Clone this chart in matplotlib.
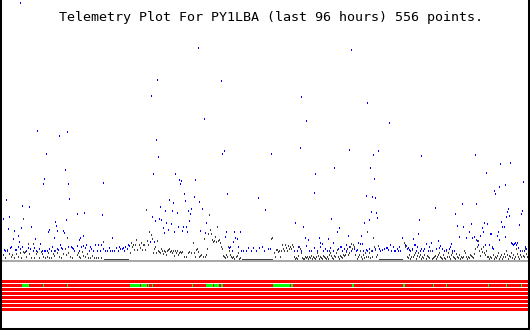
import numpy as np
import matplotlib
matplotlib.use("Agg")
import matplotlib.pyplot as plt

## Telemetry readings, t = time slot (0..530), v = reading above baseline
blue_t = [20, 157, 151, 37, 67, 59, 156, 46, 158, 65, 153, 175,
          198, 351, 221, 301, 204, 306, 300, 224, 222, 271, 349, 334, 315,
          367, 389, 378, 373, 421, 475, 370, 500, 510, 486,
          44, 43, 68, 103, 179, 6, 69, 22, 29, 77, 84, 102, 9, 3, 55, 66, 56, 31, 8,
          14, 21, 49, 48, 57, 63, 64, 18, 13, 35, 54, 83, 80, 79, 112, 19, 40,
          169, 173, 160, 165, 172, 177, 152, 159, 161, 155, 166, 171, 163, 168, 174, 164, 154, 150,
          1, 4, 5, 7, 10, 11, 15, 16, 18, 20, 22, 26, 28, 30, 33, 34, 36, 39, 42, 44, 45,
          47, 49, 51, 52, 54, 57, 58, 60, 61, 62, 68, 71, 72, 73, 74, 77, 79, 81, 83, 85,
          86, 89, 90, 91, 93, 95, 97, 98, 100, 101, 103, 105, 107, 109, 110, 112, 114, 116,
          118, 119, 120, 122, 123, 124, 125, 127, 128, 129,
          181, 180, 195, 184, 194, 227, 258, 314, 185, 199, 202, 188, 191, 190, 265, 189,
          206, 178, 183, 186, 182, 187, 200, 205, 226, 234, 240, 295, 303, 331, 339, 337,
          348, 225, 235, 237, 233, 305, 308, 319, 328, 333, 320, 322, 346, 341,
          229, 230, 232, 238, 241, 243, 246, 248, 251, 253, 256, 259, 262, 264, 268, 270,
          294, 297, 298, 301, 306, 309, 311, 314, 317, 320, 323, 325, 327, 329, 330, 333,
          338, 340, 342, 344, 346, 349, 351, 354,
          374, 366, 372, 375, 371, 376, 377, 364, 369, 361, 402, 413, 418, 419, 435, 455,
          457, 459, 462, 463, 466, 469, 471, 472, 474, 476, 477, 480, 482, 483, 484, 487,
          490, 491, 497, 498, 499, 501, 502, 504, 505, 506, 507, 508, 509, 519, 521, 522,
          523, 494, 495, 499, 505, 358, 360, 362, 438, 426, 431, 451, 511, 512, 515, 517, 478,
          356, 357, 363, 366, 367, 369, 372, 375, 379, 380, 382, 384, 386, 387, 388, 390,
          391, 393, 394, 395, 397, 398, 399, 400, 405, 407, 408, 409, 410, 412, 414, 415,
          416, 417, 420, 421, 423, 424, 428, 429, 432, 436, 439, 440, 442, 444, 446, 449,
          450, 452, 454, 485, 489, 492, 493, 513, 514, 516, 518, 520, 524, 525, 526, 528]
blue_v = [257, 180, 164, 129, 128, 124, 120, 106, 103, 90, 86, 86,
          212, 210, 179, 163, 141, 139, 112, 109, 106, 106, 110, 92, 86,
          157, 137, 109, 105, 104, 105, 92, 96, 97, 87,
          81, 76, 76, 77, 80, 60, 61, 54, 53, 46, 47, 45, 43, 41, 38, 40, 34, 33, 31,
          29, 32, 30, 28, 29, 29, 27, 24, 21, 21, 22, 24, 22, 20, 22, 18, 16,
          60, 57, 53, 49, 49, 47, 43, 41, 40, 39, 37, 36, 32, 30, 28, 27, 18, 18,
          9, 10, 9, 9, 12, 13, 10, 10, 13, 11, 13, 9, 12, 11, 9, 12, 9, 11, 9, 9, 9,
          9, 11, 9, 13, 9, 11, 10, 15, 12, 11, 13, 13, 12, 11, 9, 14, 9, 13, 14, 12,
          15, 9, 13, 11, 9, 15, 9, 15, 9, 15, 11, 9, 9, 12, 9, 9, 9, 12,
          9, 13, 11, 11, 12, 9, 13, 11, 15, 14,
          79, 76, 80, 66, 63, 66, 62, 67, 59, 58, 51, 49, 51, 46, 50, 39,
          37, 33, 33, 33, 29, 28, 29, 27, 28, 28, 28, 37, 33, 41, 32, 28,
          24, 23, 22, 21, 18, 22, 20, 22, 21, 17, 17, 16, 15, 13,
          12, 13, 9, 13, 9, 9, 9, 12, 9, 12, 9, 12, 13, 9, 11, 11,
          9, 9, 13, 9, 14, 9, 9, 12, 9, 13, 9, 11, 9, 9, 12, 9,
          11, 13, 9, 11, 9, 13, 9, 11,
          81, 64, 63, 62, 48, 47, 42, 37, 40, 24, 22, 21, 26, 40, 52, 46,
          34, 23, 56, 33, 22, 28, 36, 22, 23, 56, 19, 24, 32, 28, 37, 36,
          26, 26, 24, 28, 20, 38, 33, 33, 23, 43, 48, 51, 44, 35, 46, 49,
          78, 69, 66, 73, 75, 17, 16, 16, 19, 16, 17, 16, 17, 16, 17, 17, 15,
          9, 10, 9, 10, 9, 11, 9, 11, 11, 9, 10, 11, 12, 12, 10, 15,
          9, 13, 9, 9, 11, 9, 13, 9, 15, 11, 12, 10, 9, 11, 15, 15,
          9, 13, 9, 11, 9, 11, 9, 13, 9, 11, 12, 14, 11, 9, 10, 11,
          13, 9, 9, 15, 15, 12, 11, 15, 16, 15, 12, 9, 9, 13, 11, 12]

black_t = [0, 1, 3, 5, 7, 9, 11, 12, 14, 16, 18, 20, 21, 23, 24, 25, 26, 28, 29, 31,
           33, 34, 36, 37, 39, 41, 42, 43, 45, 47, 48, 49, 51, 53, 54, 55, 57, 59, 61, 63,
           65, 66, 67, 68, 70, 72, 74, 77, 78, 79, 80, 82, 83, 85, 87, 88, 90, 92, 94, 96,
           98, 101, 103, 23,
           130, 131, 132, 133, 134, 135, 136, 137, 139, 140, 141, 142, 143, 144, 145, 146,
           147, 148, 149, 151, 152, 153, 154, 155, 156, 157, 158, 159, 160, 161, 162, 163,
           164, 165, 166, 167, 168, 169, 170, 171, 172, 173, 174, 175, 176,
           177, 178, 179, 180, 181, 182, 184, 186, 188, 189, 191, 193, 194, 195, 196, 197,
           198, 199, 200, 201, 203, 204, 205, 206, 207, 208, 209, 210, 211, 212, 213, 214,
           215, 216, 217, 218, 219, 220, 221, 222, 223, 224, 225, 226, 227, 228, 229, 230,
           231, 232, 233, 234, 236, 237, 238, 239, 240,
           271, 272, 274, 275, 276, 277, 278, 279, 280, 281, 282, 283, 284, 285, 286, 287,
           288, 289, 290, 291, 292, 293, 294, 295, 296, 297, 298, 299, 300, 301, 302, 303,
           304, 305, 306, 307, 308, 309, 310, 311, 312, 313, 314, 315, 316, 317, 318, 319,
           320, 321, 322, 323, 324, 325, 326, 327, 328, 329, 330, 331, 332, 333, 334, 335,
           336, 337, 338, 339, 340, 341, 342, 343, 344, 345, 346, 347, 348, 349, 350, 351,
           352, 353, 354,
           355, 357, 358, 359, 360, 361, 362, 363, 364, 365, 366, 367, 368, 369, 370, 371,
           372, 373, 374, 375, 376, 377, 378,
           404, 405, 406, 407, 408, 409, 410, 411, 412, 413, 414, 415, 416, 417, 418, 419,
           420, 421, 422, 423, 424, 426, 427, 428, 429, 430, 432, 433, 434, 435, 436, 437,
           438, 439, 440, 441, 442, 443, 444, 445, 446, 447, 448, 449, 450, 451, 452, 453,
           454, 455, 456, 457, 458, 459, 460, 461, 462, 463, 464, 465, 466, 467, 468, 469,
           470, 471, 472, 473, 474, 475, 476, 477, 478, 479, 480, 481, 482, 483, 484, 485,
           486, 487, 488, 489, 490, 491, 492, 493, 494, 495, 496, 497, 498, 499, 500, 501,
           502, 503, 504, 505, 506, 507, 508, 509, 510, 511, 512, 513, 514, 515, 516, 517,
           518, 519, 520, 521, 522, 523, 524, 525, 526, 527, 528]
black_v = [7, 3, 5, 2, 10, 6, 3, 5, 2, 6, 3, 7, 2, 8, 7, 8, 3, 16, 6, 2,
           16, 2, 6, 8, 2, 8, 6, 3, 2, 3, 7, 2, 2, 6, 4, 9, 7, 3, 2, 6,
           11, 5, 22, 7, 3, 2, 9, 5, 7, 3, 2, 8, 4, 3, 6, 2, 2, 4, 2, 2,
           2, 2, 18, 41,
           7, 17, 13, 15, 10, 15, 20, 10, 15, 12, 17, 10, 15, 15, 10, 50,
           19, 15, 28, 25, 21, 7, 11, 13, 7, 19, 9, 8, 7, 11, 9, 6,
           9, 8, 5, 9, 10, 11, 8, 9, 7, 9, 4, 9, 7,
           9, 5, 7, 8, 7, 8, 3, 3, 7, 8, 7, 17, 7, 3, 10, 11,
           8, 3, 4, 5, 3, 21, 3, 5, 11, 26, 45, 30, 26, 20, 18, 19,
           23, 18, 33, 19, 20, 17, 13, 11, 4, 3, 2, 5, 3, 13, 9, 5,
           3, 2, 3, 1, 3, 4, 7, 1, 2,
           21, 22, 7, 3, 10, 10, 8, 9, 3, 9, 15, 11, 9, 15, 12, 9,
           14, 11, 13, 11, 15, 13, 3, 1, 2, 1, 4, 13, 11, 7, 2, 1,
           1, 3, 2, 3, 1, 3, 2, 4, 1, 3, 2, 1, 3, 7, 4, 1,
           3, 2, 1, 4, 3, 2, 1, 3, 1, 5, 7, 4, 2, 1, 4, 3,
           7, 10, 3, 1, 4, 3, 2, 5, 4, 5, 8, 11, 5, 7, 13, 16,
           11, 15, 13,
           5, 1, 3, 5, 9, 3, 1, 5, 2, 7, 3, 28, 3, 7, 2, 9,
           3, 22, 13, 10, 3, 5, 14,
           17, 13, 14, 3, 2, 5, 1, 3, 10, 3, 5, 7, 1, 4, 7, 3,
           5, 1, 3, 2, 5, 1, 4, 3, 2, 9, 1, 2, 3, 4, 1, 3,
           5, 7, 3, 2, 1, 5, 2, 1, 9, 3, 7, 3, 1, 5, 7, 3,
           2, 1, 6, 3, 2, 5, 1, 3, 2, 3, 9, 7, 3, 1, 3, 2,
           5, 4, 3, 2, 6, 11, 20, 13, 19, 9, 4, 11, 8, 13, 7, 5,
           9, 3, 3, 1, 3, 2, 13, 5, 1, 3, 2, 4, 7, 1, 3, 5,
           1, 3, 6, 3, 9, 5, 1, 4, 3, 7, 2, 5, 1, 3, 11, 6,
           3, 1, 5, 3, 9, 4, 3, 11, 6, 3, 2]

# stretches where the black channel sits flat on the floor
floor_start = [104, 242, 379]
floor_end = [128, 272, 402]

# status band: green stretches on the second row
green_start = [22, 43, 67, 130, 141, 148, 152, 192, 206, 214, 221, 273, 291,
               352, 403, 433, 446, 488, 506, 521]
green_end = [29, 44, 68, 140, 147, 149, 153, 193, 213, 219, 223, 290, 293,
             354, 405, 434, 447, 489, 507, 522]
n_rows = 8

fig = plt.figure(figsize=(5.3, 3.3), dpi=100)
ax = fig.add_axes([0, 0, 1, 1])
ax.set_xlim(0, 530)
ax.set_ylim(-70, 260)

# baseline
ax.hlines(-0.7, 1, 529, colors='#a8a8a8', linewidth=1.44, antialiased=False)

ax.bar(black_t, 2, bottom=np.array(black_v) - 1, width=1, align='edge',
       color='#404040', linewidth=0, antialiased=False)
ax.hlines([1] * len(floor_start), floor_start, floor_end,
          colors='#404040', linewidth=0.72, antialiased=False)
ax.bar(blue_t, 2, bottom=np.array(blue_v) - 1, width=1, align='edge',
       color='#0000ff', linewidth=0, antialiased=False)

# red status rows with green marks
for i in range(n_rows):
    top = -20 - 4 * i
    ax.barh(top - 1.5, 528, left=1, height=3, color='#ff0000',
            linewidth=0, antialiased=False)
for s, e in zip(green_start, green_end):
    ax.barh(-25.5, e - s, left=s, height=3, color='#00ff00',
            linewidth=0, antialiased=False)

ax.text(271, 243, "Telemetry Plot For PY1LBA (last 96 hours) 556 points.",
        ha='center', va='center', fontsize=9.6, family='DejaVu Sans Mono')

ax.set_xticks([])
ax.set_yticks([])
for side in ['left', 'right', 'bottom']:
    ax.spines[side].set_linewidth(2.9)
    ax.spines[side].set_color('black')
ax.spines['top'].set_visible(False)

fig.savefig('out.png', dpi=100)
